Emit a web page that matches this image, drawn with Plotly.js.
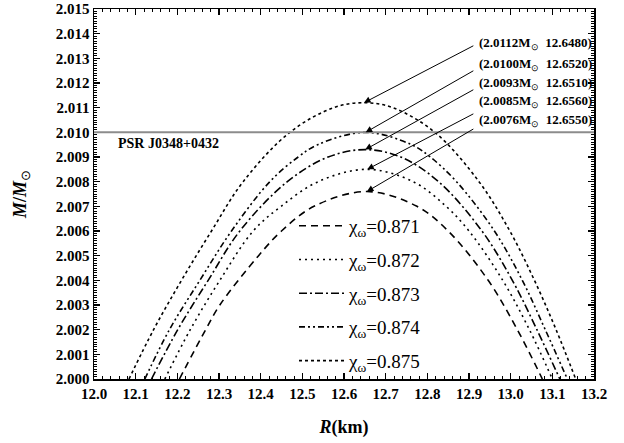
<!DOCTYPE html>
<html><head><meta charset="utf-8">
<script src="https://cdn.plot.ly/plotly-3.0.1.min.js"></script>
<style>html,body{margin:0;padding:0;background:#fff}#chart{width:624px;height:443px}</style>
</head><body><div id="chart"></div>
<script>
// ---- data ----
const chiLabels = ['0.871', '0.872', '0.873', '0.874', '0.875'];

const R_871 = [12.205, 12.268, 12.302, 12.395, 12.450, 12.528, 12.655, 12.775, 12.850, 12.946, 13.016, 13.076];
const M_871 = [2.0000, 2.0020, 2.0030, 2.0050, 2.0060, 2.0070, 2.0076, 2.0070, 2.0060, 2.0040, 2.0020, 2.0000];

const R_872 = [12.170, 12.231, 12.302, 12.382, 12.449, 12.538, 12.656, 12.766, 12.845, 12.900, 12.981, 13.045, 13.100];
const M_872 = [2.0000, 2.0020, 2.0040, 2.0060, 2.0070, 2.0080, 2.0085, 2.0080, 2.0070, 2.0060, 2.0040, 2.0020, 2.0000];

const R_873 = [12.138, 12.201, 12.274, 12.350, 12.464, 12.562, 12.651, 12.736, 12.827, 12.931, 13.004, 13.063, 13.118];
const M_873 = [2.0000, 2.0020, 2.0040, 2.0060, 2.0080, 2.0090, 2.0093, 2.0090, 2.0080, 2.0060, 2.0040, 2.0020, 2.0000];

const R_874 = [12.122, 12.181, 12.254, 12.330, 12.422, 12.490, 12.537, 12.652, 12.762, 12.807, 12.870, 12.961, 13.028, 13.083, 13.136];
const M_874 = [2.0000, 2.0020, 2.0040, 2.0060, 2.0080, 2.0090, 2.0095, 2.0100, 2.0095, 2.0090, 2.0080, 2.0060, 2.0040, 2.0020, 2.0000];

const R_875 = [12.084, 12.143, 12.210, 12.282, 12.358, 12.470, 12.575, 12.648, 12.717, 12.818, 12.924, 12.998, 13.057, 13.109, 13.156];
const M_875 = [2.0000, 2.0020, 2.0040, 2.0060, 2.0080, 2.0100, 2.0110, 2.0112, 2.0110, 2.0100, 2.0080, 2.0060, 2.0040, 2.0020, 2.0000];

// maxima labelled in the figure (top label first)
const peakM = [2.0112, 2.0100, 2.0093, 2.0085, 2.0076];
const peakR = [12.6480, 12.6520, 12.6510, 12.6560, 12.6550];

const psrName = 'PSR J0348+0432';
const psrMass = 2.010;

const xTicks = [12.0, 12.1, 12.2, 12.3, 12.4, 12.5, 12.6, 12.7, 12.8, 12.9, 13.0, 13.1, 13.2];
const yTicks = [2.000, 2.001, 2.002, 2.003, 2.004, 2.005, 2.006, 2.007, 2.008, 2.009, 2.010, 2.011, 2.012, 2.013, 2.014, 2.015];

// ---- styling ----
const FONT = '"Liberation Serif", "Times New Roman", Times, serif';
const seriesR = [R_871, R_872, R_873, R_874, R_875];
const seriesM = [M_871, M_872, M_873, M_874, M_875];
const dashes = ['7px,5px', '2px,4px', '8px,3px,2px,3px', '6px,3px,2px,3px,2px,3px', '3px,3px'];

const traces = seriesR.map((r, i) => ({
  x: r, y: seriesM[i], type: 'scatter', mode: 'lines',
  name: 'χ<sub>ω</sub>=' + chiLabels[i],
  legendgroup: 'g' + i,
  line: {color: '#000', width: 1.6, dash: dashes[i], shape: 'spline', smoothing: 1}
}));

const tailY = [2.01354, 2.01253, 2.01176, 2.01078, 2.01017];
const labelY = [2.01362, 2.01277, 2.01200, 2.01123, 2.01046];
const annotations = [];
peakM.forEach((m, i) => {
  annotations.push({
    x: peakR[i], y: m, xref: 'x', yref: 'y',
    ax: 12.914, ay: tailY[i], axref: 'x', ayref: 'y',
    text: '', showarrow: true, arrowhead: 2, arrowsize: 1.3, arrowwidth: 1, arrowcolor: '#000', standoff: 0
  });
  annotations.push({
    x: 1, xref: 'paper', xanchor: 'right', y: labelY[i], yref: 'y', yanchor: 'middle',
    text: '<b>(' + m.toFixed(4) + 'M</b><sub>⊙</sub><b>\u00a0\u00a0' + peakR[i].toFixed(4) + ')</b>',
    showarrow: false, font: {family: FONT, size: 13, color: '#000'}
  });
});
annotations.push({
  x: 12.053, xref: 'x', xanchor: 'left', y: 2.00953, yref: 'y', yanchor: 'middle',
  text: '<b>' + psrName + '</b>', showarrow: false, font: {family: FONT, size: 14, color: '#000'}
});

const axisCommon = {
  showgrid: false, zeroline: false, showline: true, linecolor: '#000', linewidth: 1.5,
  mirror: 'ticks', ticks: 'inside', ticklen: 6, tickwidth: 1.5, tickcolor: '#000',
  tickfont: {family: FONT, size: 15, color: '#000', weight: 'bold'}
};

const layout = {
  width: 624, height: 443,
  margin: {l: 94, r: 30, t: 9, b: 64},
  paper_bgcolor: '#fff', plot_bgcolor: '#fff',
  font: {family: FONT, color: '#000'},
  showlegend: true,
  legend: {
    x: 0.40, y: 0.465, xanchor: 'left', yanchor: 'top',
    bgcolor: 'rgba(0,0,0,0)', borderwidth: 0,
    font: {family: FONT, size: 19, color: '#000'},
    tracegroupgap: 6, itemwidth: 45
  },
  xaxis: Object.assign({}, axisCommon, {
    range: [12.0, 13.2], tickvals: xTicks, tickformat: '.1f',
    minor: {dtick: 0.02, ticks: 'inside', ticklen: 3, tickwidth: 1, tickcolor: '#000'},
    title: {text: '<b><i>R</i>(km)</b>', font: {family: FONT, size: 18, color: '#000'}, standoff: 20}
  }),
  yaxis: Object.assign({}, axisCommon, {
    range: [2.000, 2.015], tickvals: yTicks, tickformat: '.3f',
    minor: {dtick: 0.0001, ticks: 'inside', ticklen: 3, tickwidth: 1, tickcolor: '#000'},
    title: {text: '<b><i>M</i>/<i>M</i></b><sub>⊙</sub>', font: {family: FONT, size: 18, color: '#000'}, standoff: 24}
  }),
  shapes: [{
    type: 'line', xref: 'paper', x0: 0, x1: 1, yref: 'y', y0: psrMass, y1: psrMass,
    line: {color: '#8c8c8c', width: 2}, layer: 'above'
  }],
  annotations: annotations
};

Plotly.newPlot('chart', traces, layout, {displayModeBar: false, staticPlot: true});
</script>
</body></html>
